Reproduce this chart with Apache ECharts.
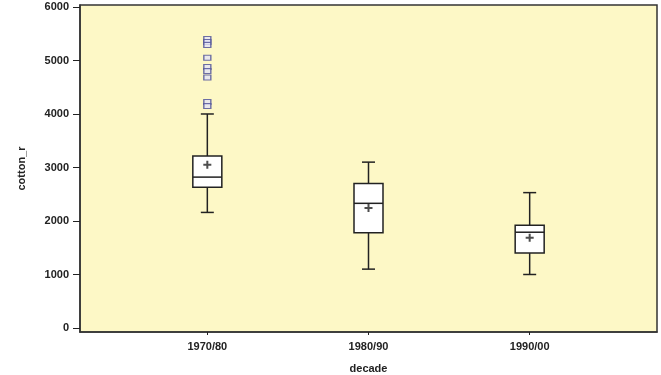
<!DOCTYPE html>
<html>
<head>
<meta charset="utf-8">
<script src="https://cdn.jsdelivr.net/npm/echarts@6/dist/echarts.min.js"></script>
<style>html,body{margin:0;padding:0;background:#fff;}#c{width:661px;height:375px;}</style>
</head>
<body>
<div id="c"></div>
<script>
var categories = ['1970/80', '1980/90', '1990/00'];
var whiskerLow = [2160, 1100, 1000];
var boxQ1 = [2630, 1780, 1400];
var boxMedian = [2820, 2330, 1790];
var boxQ3 = [3215, 2700, 1920];
var whiskerHigh = [4000, 3100, 2530];
var means = [3050, 2245, 1685];
var outliers1970 = [5400, 5345, 5290, 5050, 4880, 4805, 4680, 4225, 4150];
var yTicks = [0, 1000, 2000, 3000, 4000, 5000, 6000];

var boxData = categories.map(function (c, i) {
  return [i + 1, whiskerLow[i], boxQ1[i], boxMedian[i], boxQ3[i], whiskerHigh[i]];
});
var meanData = categories.map(function (c, i) { return [i + 1, means[i]]; });
var outlierData = outliers1970.map(function (v) { return [1, v]; });

var txt = { color: '#222', fontFamily: 'Liberation Sans, Arial, sans-serif', fontWeight: 'bold', fontSize: 11 };
var ink = '#222';

var chart = echarts.init(document.getElementById('c'), null, { renderer: 'canvas' });
chart.setOption({
  animation: false,
  backgroundColor: '#fff',
  grid: {
    left: 80, right: 4, top: 5, bottom: 43,
    outerBoundsMode: 'none', containLabel: false,
    show: true, backgroundColor: '#fdf8c6', borderColor: '#333', borderWidth: 1.5
  },
  xAxis: {
    type: 'value', min: 0.21, max: 3.79,
    name: 'decade', nameLocation: 'middle', nameGap: 31,
    nameTextStyle: txt,
    splitLine: { show: false },
    axisLine: { show: true, onZero: false, lineStyle: { color: '#333', width: 1.5 } },
    axisTick: { show: true, length: 3, customValues: [1, 2, 3], lineStyle: { color: ink } },
    axisLabel: Object.assign({
      customValues: [1, 2, 3], margin: 9,
      formatter: function (v) { return categories[Math.round(v) - 1] || ''; }
    }, txt)
  },
  yAxis: {
    type: 'value', min: -75, max: 6037,
    name: 'cotton_r', nameLocation: 'middle', nameGap: 53, nameRotate: 90,
    nameTextStyle: txt,
    splitLine: { show: false },
    axisLine: { show: true, onZero: false, lineStyle: { color: '#333', width: 1.5 } },
    axisTick: { show: true, length: 7, customValues: yTicks, lineStyle: { color: ink } },
    axisLabel: Object.assign({
      customValues: yTicks, margin: 11,
      formatter: function (v) { return String(Math.round(v)); }
    }, txt)
  },
  series: [
    {
      type: 'custom',
      data: boxData,
      encode: { x: 0, y: [1, 2, 3, 4, 5] },
      renderItem: function (params, api) {
        var x = api.value(0);
        var pLow = api.coord([x, api.value(1)]);
        var pQ1 = api.coord([x, api.value(2)]);
        var pMed = api.coord([x, api.value(3)]);
        var pQ3 = api.coord([x, api.value(4)]);
        var pHigh = api.coord([x, api.value(5)]);
        var cx = pLow[0];
        var hw = 14.5, cw = 6.5;
        var ls = { stroke: ink, lineWidth: 1.5 };
        return {
          type: 'group',
          children: [
            { type: 'line', shape: { x1: cx, y1: pHigh[1], x2: cx, y2: pLow[1] }, style: ls },
            { type: 'line', shape: { x1: cx - cw, y1: pHigh[1], x2: cx + cw, y2: pHigh[1] }, style: ls },
            { type: 'line', shape: { x1: cx - cw, y1: pLow[1], x2: cx + cw, y2: pLow[1] }, style: ls },
            { type: 'rect', shape: { x: cx - hw, y: pQ3[1], width: hw * 2, height: pQ1[1] - pQ3[1] },
              style: { fill: '#fff', stroke: ink, lineWidth: 1.5 } },
            { type: 'line', shape: { x1: cx - hw, y1: pMed[1], x2: cx + hw, y2: pMed[1] }, style: ls }
          ]
        };
      },
      z: 2
    },
    {
      type: 'scatter',
      data: meanData,
      symbol: 'path://M3,0h2v3h3v2h-3v3h-2v-3h-3v-2h3z',
      symbolSize: 8,
      itemStyle: { color: ink },
      z: 3
    },
    {
      type: 'scatter',
      data: outlierData,
      symbol: 'rect',
      symbolSize: [7, 5],
      itemStyle: { color: '#e4e4f4', borderColor: '#4b4d96', borderWidth: 1.2 },
      z: 3
    }
  ]
});
</script>
</body>
</html>
